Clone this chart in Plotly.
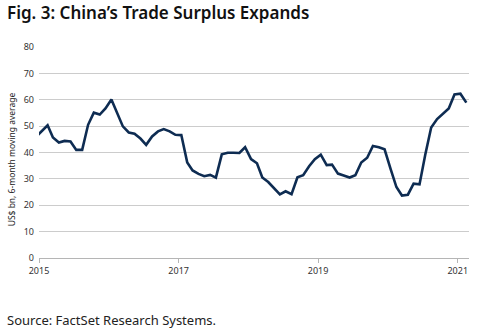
import plotly.graph_objects as go

# Monthly data (mid-month), US$ bn, 6-month moving average
months = [
    "2014-12", "2015-01", "2015-02", "2015-03", "2015-04", "2015-05", "2015-06", "2015-07",
    "2015-08", "2015-09", "2015-10", "2015-11", "2015-12",
    "2016-01", "2016-02", "2016-03", "2016-04", "2016-05", "2016-06", "2016-07",
    "2016-08", "2016-09", "2016-10", "2016-11", "2016-12",
    "2017-01", "2017-02", "2017-03", "2017-04", "2017-05", "2017-06", "2017-07",
    "2017-08", "2017-09", "2017-10", "2017-11", "2017-12",
    "2018-01", "2018-02", "2018-03", "2018-04", "2018-05", "2018-06", "2018-07",
    "2018-08", "2018-09", "2018-10", "2018-11", "2018-12",
    "2019-01", "2019-02", "2019-03", "2019-04", "2019-05", "2019-06", "2019-07",
    "2019-08", "2019-09", "2019-10", "2019-11", "2019-12",
    "2020-01", "2020-02", "2020-03", "2020-04", "2020-05", "2020-06", "2020-07",
    "2020-08", "2020-09", "2020-10", "2020-11", "2020-12",
    "2021-01", "2021-02",
]
surplus = [
    45.8, 48.2, 50.3, 45.7, 43.8, 44.4, 44.2, 41.0,
    41.0, 50.5, 55.1, 54.4, 56.7,
    60.1, 55.0, 49.9, 47.6, 47.1, 45.3, 42.9,
    46.1, 48.0, 48.9, 48.0, 46.7, 46.6,
    36.2, 33.2, 31.9, 31.0, 31.5, 30.5,
    39.3, 39.9, 39.9, 39.8, 42.0,
    37.5, 35.9, 30.5, 28.8, 26.4, 24.1, 25.3,
    24.2, 30.6, 31.4, 34.8, 37.5,
    39.2, 35.2, 35.4, 32.0, 31.3, 30.5, 31.4,
    36.2, 38.0, 42.5, 42.0, 41.2,
    33.9, 26.9, 23.7, 24.0, 28.2, 27.9, 39.1,
    49.5, 52.7, 54.6, 56.7, 62.0,
    62.3, 58.9,
]
dates = [m + "-15" for m in months]

tick_vals = ["2015-01-01", "2017-01-01", "2019-01-01", "2021-01-01"]
tick_text = ["2015", "2017", "2019", "2021"]

fig = go.Figure()
fig.add_trace(go.Scatter(
    x=dates, y=surplus, mode="lines",
    line=dict(color="#0e2c52", width=2.6),
    hoverinfo="skip",
))

fig.update_layout(
    width=479, height=331,
    margin=dict(l=39, r=10, t=47, b=73),
    paper_bgcolor="white", plot_bgcolor="white",
    showlegend=False,
    font=dict(family="Noto Sans", color="#222"),
    xaxis=dict(
        type="date",
        range=["2015-01-01", "2021-03-01"],
        tickvals=tick_vals, ticktext=tick_text,
        showgrid=False, showline=True, linecolor="#b5b5b5", linewidth=1,
        ticks="outside", ticklen=4, tickcolor="#b5b5b5",
        tickfont=dict(size=9, color="#333"),
        zeroline=False,
    ),
    yaxis=dict(
        range=[0, 80], dtick=10,
        showgrid=True, gridcolor="#cccccc", gridwidth=1,
        showline=False, zeroline=False, ticks="",
        tickfont=dict(size=9, color="#333"),
        ticklabelstandoff=4,
    ),
    annotations=[
        dict(
            text="Fig. 3: China\u2019s Trade Surplus Expands",
            xref="paper", yref="paper", x=-34 / 430, y=1 + 34 / 211,
            xanchor="left", yanchor="middle",
            showarrow=False,
            font=dict(family="Noto Sans", size=17, color="#111", weight=600),
        ),
        dict(
            text="US$ bn, 6-month moving average",
            xref="paper", yref="paper", x=-0.064, y=0.47,
            xanchor="center", yanchor="middle", textangle=-90,
            showarrow=False, font=dict(size=8.5, color="#222"),
        ),
        dict(
            text="Source: FactSet Research Systems.",
            xref="paper", yref="paper", x=-34 / 430, y=-62 / 211,
            xanchor="left", yanchor="middle",
            showarrow=False, font=dict(size=13, color="#222"),
        ),
    ],
)

fig.write_html("out.html")
